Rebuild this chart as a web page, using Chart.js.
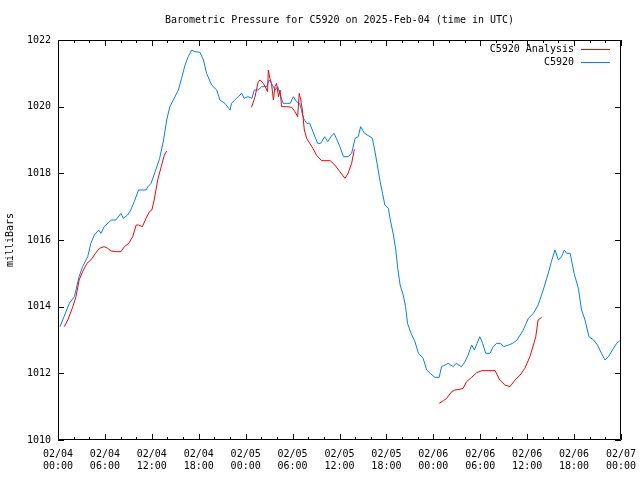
<!DOCTYPE html>
<html>
<head>
<meta charset="utf-8">
<title>Barometric Pressure for C5920</title>
<script src="https://cdn.jsdelivr.net/npm/chart.js@4"></script>
<style>
  html, body { margin: 0; padding: 0; background: #fff; }
  #wrap { width: 640px; height: 480px; }
</style>
</head>
<body>
<div id="wrap"><canvas id="myChart" width="640" height="480"></canvas></div>
<script>
// x values are hours since 2025-02-04 00:00 UTC
const tickDates = ["02/04", "02/04", "02/04", "02/04", "02/05", "02/05", "02/05", "02/05", "02/06", "02/06", "02/06", "02/06", "02/07"];
const tickTimes = ["00:00", "06:00", "12:00", "18:00", "00:00", "06:00", "12:00", "18:00", "00:00", "06:00", "12:00", "18:00", "00:00"];

const stationHours = [
  0.25, 0.6, 1.45, 2.1, 2.7, 3.15, 3.8, 4.2, 4.65, 5.2, 5.5, 5.9, 6.8, 7.4, 8.05, 8.35, 8.9, 9.3, 9.75, 10.3,
  11.25, 11.5, 11.9, 12.5, 13.0, 13.5, 13.9, 14.3, 14.75, 15.4, 15.8, 16.25, 16.65, 17.1, 17.5, 18.15, 18.6, 19.0, 19.65, 20.3,
  20.7, 21.35, 22.0, 22.2, 22.6, 23.05, 23.5, 23.8, 24.3, 24.8, 25.1, 25.6, 26.05, 26.7, 27.0, 27.3, 27.75, 28.1, 28.5, 28.8,
  29.2, 29.7, 30.1, 30.5, 30.9, 31.4, 31.8, 32.2, 32.6, 33.2, 33.6, 34.1, 34.5, 34.9, 35.3, 35.6, 36.05, 36.5, 37.1, 37.55,
  38.0, 38.4, 38.7, 39.2, 39.9, 40.2, 40.5, 40.8, 41.2, 41.5, 41.8, 42.25, 42.5, 42.9, 43.2, 43.45, 43.75, 44.15, 44.45, 44.7,
  45.15, 45.65, 46.1, 46.7, 47.15, 47.6, 48.2, 48.75, 49.05, 49.5, 49.9, 50.55, 50.9, 51.6, 52.05, 52.45, 52.9, 53.25, 53.6, 53.95,
  54.3, 54.7, 55.25, 55.65, 56.1, 56.6, 57.0, 57.6, 58.15, 58.7, 59.1, 59.5, 60.15, 60.8, 61.4, 62.05, 62.7, 63.1, 63.55, 64.0,
  64.4, 64.75, 65.05, 65.5, 66.0, 66.55, 66.95, 67.4, 67.9, 68.5, 69.0, 69.5, 69.95, 70.4, 70.9, 71.45, 71.85
];
const stationValues = [
  1013.4, 1013.6, 1014.1, 1014.3, 1014.9, 1015.2, 1015.5, 1015.9, 1016.15, 1016.3, 1016.2, 1016.4, 1016.6, 1016.6, 1016.8, 1016.65, 1016.75, 1016.9, 1017.15, 1017.5,
  1017.5, 1017.6, 1017.7, 1018.1, 1018.45, 1019.0, 1019.6, 1020.0, 1020.2, 1020.5, 1020.85, 1021.25, 1021.5, 1021.7, 1021.65, 1021.63, 1021.4, 1021.0, 1020.65, 1020.5,
  1020.2, 1020.1, 1019.9, 1020.1, 1020.2, 1020.3, 1020.4, 1020.25, 1020.3, 1020.25, 1020.5, 1020.5, 1020.6, 1020.6, 1020.8, 1020.7, 1020.5, 1020.6, 1020.3, 1020.1,
  1020.1, 1020.1, 1020.3, 1020.15, 1020.1, 1019.65, 1019.5, 1019.5, 1019.25, 1018.9, 1018.9, 1019.1, 1018.95, 1019.1, 1019.2, 1019.05, 1018.8, 1018.5, 1018.5, 1018.6,
  1019.05, 1019.1, 1019.4, 1019.2, 1019.1, 1019.05, 1018.7, 1018.3, 1017.75, 1017.4, 1017.05, 1016.95, 1016.6, 1016.15, 1015.7, 1015.15, 1014.65, 1014.35, 1014.0, 1013.5,
  1013.2, 1012.95, 1012.6, 1012.45, 1012.1, 1012.0, 1011.88, 1011.88, 1012.2, 1012.25, 1012.3, 1012.2, 1012.3, 1012.2, 1012.35, 1012.55, 1012.85, 1012.7, 1012.9, 1013.1,
  1012.9, 1012.6, 1012.6, 1012.8, 1012.9, 1012.9, 1012.8, 1012.85, 1012.9, 1013.0, 1013.15, 1013.3, 1013.65, 1013.8, 1014.05, 1014.5, 1015.0, 1015.35, 1015.7, 1015.4,
  1015.5, 1015.7, 1015.6, 1015.6, 1015.0, 1014.55, 1013.9, 1013.6, 1013.1, 1013.0, 1012.85, 1012.6, 1012.4, 1012.5, 1012.7, 1012.9, 1012.98
];

// analysis series has three pieces; null breaks the line
const analysisHours = [
  0.8, 1.25, 1.9, 2.3, 2.7, 3.15, 3.7, 4.2, 4.8, 5.3, 5.9, 6.35, 6.8, 7.4, 8.05, 8.5, 9.05, 9.55, 10.0, 10.3,
  10.8, 11.25, 11.7, 12.0, 12.3, 12.75, 13.2, 13.6, 13.9,
  19.0,
  24.75, 25.2, 25.6, 25.85, 26.25, 26.5, 26.8, 26.9, 27.1, 27.3, 27.55, 27.75, 27.95, 28.2, 28.4, 28.6, 29.25, 29.9, 30.3, 30.65,
  30.85, 31.05, 31.25, 31.5, 31.8, 32.2, 32.6, 33.05, 33.7, 34.8, 35.4, 36.05, 36.7, 37.1, 37.55, 37.9,
  43.0,
  48.75, 49.3, 49.7, 50.35, 50.75, 51.4, 51.8, 52.25, 52.9, 53.55, 54.2, 55.9, 56.5, 57.15, 57.8, 58.45, 59.1, 59.7, 60.35, 60.8,
  61.1, 61.4, 61.85
];
const analysisValues = [
  1013.4, 1013.6, 1014.0, 1014.3, 1014.8, 1015.05, 1015.3, 1015.4, 1015.6, 1015.75, 1015.8, 1015.75, 1015.67, 1015.65, 1015.65, 1015.8, 1015.9, 1016.1, 1016.45, 1016.45,
  1016.4, 1016.65, 1016.85, 1016.9, 1017.2, 1017.8, 1018.2, 1018.55, 1018.67,
  null,
  1019.98, 1020.3, 1020.75, 1020.8, 1020.7, 1020.6, 1020.45, 1021.1, 1020.85, 1020.7, 1020.2, 1020.6, 1020.7, 1020.3, 1020.5, 1020.0, 1020.0, 1019.98, 1019.85, 1019.7,
  1020.4, 1020.2, 1019.9, 1019.3, 1019.05, 1018.9, 1018.75, 1018.55, 1018.38, 1018.38, 1018.25, 1018.05, 1017.85, 1018.0, 1018.3, 1018.72,
  null,
  1011.1, 1011.18, 1011.25, 1011.45, 1011.5, 1011.52, 1011.55, 1011.75, 1011.88, 1012.02, 1012.08, 1012.08, 1011.8, 1011.65, 1011.6, 1011.8, 1011.95, 1012.15, 1012.5, 1012.85,
  1013.1, 1013.6, 1013.68
];

const monoFont = "'DejaVu Sans Mono', 'Liberation Mono', monospace";

const toPoints = (xs, ys) => xs.map((x, i) => ({ x: x, y: ys[i] }));

// gnuplot style frame, inward ticks, title and legend
const gnuplotFrame = {
  id: "gnuplotFrame",
  afterDatasetsDraw(chart) {
    const { ctx, chartArea: a, scales } = chart;
    const xs = scales.x;
    const ys = scales.y;
    ctx.save();
    ctx.strokeStyle = "#000";
    ctx.lineWidth = 1;
    ctx.beginPath();
    ctx.rect(a.left + 0.5, a.top + 0.5, a.right - a.left - 1, a.bottom - a.top - 1);
    ctx.stroke();

    ctx.beginPath();
    for (let h = 0; h <= 72; h += 2) {
      const px = Math.round(xs.getPixelForValue(h)) + 0.5;
      const len = h % 6 === 0 ? 6 : 3;
      ctx.moveTo(px, a.bottom);
      ctx.lineTo(px, a.bottom - len);
      ctx.moveTo(px, a.top);
      ctx.lineTo(px, a.top + len);
    }
    for (let v = 1010; v <= 1022; v += 2) {
      const py = Math.round(ys.getPixelForValue(v)) + 0.5;
      ctx.moveTo(a.left, py);
      ctx.lineTo(a.left + 6, py);
      ctx.moveTo(a.right, py);
      ctx.lineTo(a.right - 6, py);
    }
    ctx.stroke();

    // title
    ctx.fillStyle = "#000";
    ctx.font = "10px " + monoFont;
    ctx.textAlign = "center";
    ctx.textBaseline = "middle";
    ctx.fillText("Barometric Pressure for C5920 on 2025-Feb-04 (time in UTC)", (a.left + a.right) / 2, 20);

    // legend, text on the left of the sample line
    ctx.textAlign = "right";
    chart.data.datasets.forEach((ds, i) => {
      const y = 49 + i * 13;
      ctx.fillStyle = "#000";
      ctx.fillText(ds.label, 574, y);
      ctx.strokeStyle = ds.borderColor;
      ctx.beginPath();
      ctx.moveTo(581, y + 0.5);
      ctx.lineTo(610, y + 0.5);
      ctx.stroke();
    });
    ctx.restore();
  }
};

window.onload = () => {
  const ctx = document.querySelector("#myChart").getContext("2d");

  new Chart(ctx, {
    type: "line",
    data: {
      datasets: [
        {
          label: "C5920 Analysis",
          data: toPoints(analysisHours, analysisValues),
          borderColor: "#ff0000",
          borderWidth: 1,
          pointRadius: 0,
          tension: 0,
          spanGaps: false
        },
        {
          label: "C5920",
          data: toPoints(stationHours, stationValues),
          borderColor: "#0080ff",
          borderWidth: 1,
          pointRadius: 0,
          tension: 0
        }
      ]
    },
    options: {
      responsive: false,
      animation: false,
      events: [],
      layout: { padding: { top: 40, right: 19, left: 0, bottom: 0 } },
      plugins: {
        legend: { display: false },
        title: { display: false },
        tooltip: { enabled: false }
      },
      scales: {
        x: {
          type: "linear",
          min: 0,
          max: 72,
          afterFit: (scale) => {
            scale.height = 40;
            scale.paddingLeft = 0;
            scale.paddingRight = 0;
          },
          afterBuildTicks: (scale) => {
            scale.ticks = tickDates.map((d, i) => ({ value: i * 6 }));
          },
          grid: { display: false, drawTicks: false },
          border: { display: false },
          ticks: {
            padding: 8,
            maxRotation: 0,
            autoSkip: false,
            color: "#000",
            font: { family: monoFont, size: 10 },
            callback: (value) => {
              const i = Math.round(value / 6);
              return [tickDates[i], tickTimes[i]];
            }
          }
        },
        y: {
          min: 1010,
          max: 1022,
          afterFit: (scale) => {
            scale.width = 58;
            scale.paddingTop = 0;
            scale.paddingBottom = 0;
          },
          grid: { display: false, drawTicks: false },
          border: { display: false },
          ticks: {
            stepSize: 2,
            padding: 7,
            color: "#000",
            font: { family: monoFont, size: 10 },
            callback: (value) => String(value)
          },
          title: {
            display: true,
            text: "milliBars",
            color: "#000",
            font: { family: monoFont, size: 10 },
            padding: 4
          }
        }
      }
    },
    plugins: [gnuplotFrame]
  });
};
</script>
</body>
</html>
